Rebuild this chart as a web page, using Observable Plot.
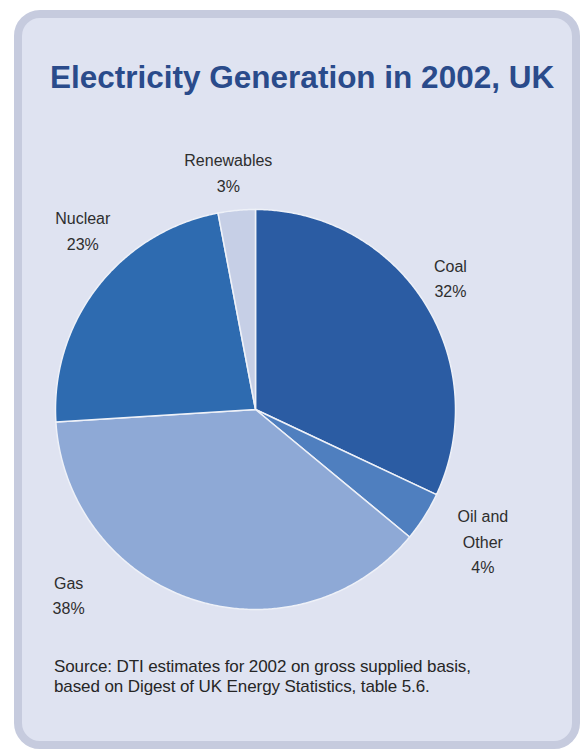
<!DOCTYPE html>
<html>
<head>
<meta charset="utf-8">
<script src="https://cdn.jsdelivr.net/npm/d3@7"></script>
<script src="https://cdn.jsdelivr.net/npm/@observablehq/plot@0.6"></script>
<style>
  html, body { margin: 0; padding: 0; background: #ffffff; }
  body { width: 584px; height: 749px; overflow: hidden; position: relative; font-family: "Liberation Sans", Arial, sans-serif; }
  #panel { position: absolute; left: 14px; top: 10px; width: 550px; height: 723px; border: 8px solid #c6cbde; border-radius: 26px; background: #dfe3f1; }
  #title { position: absolute; left: 50px; top: 62px; font-size: 31.5px; font-weight: bold; color: #2a4b8b; white-space: nowrap; line-height: 1; }
  #chart { position: absolute; left: 0; top: 0; }
  #caption { position: absolute; left: 54px; top: 657px; font-size: 17px; line-height: 20px; color: #262626; white-space: nowrap; letter-spacing: -0.1px; }
</style>
</head>
<body>
<div id="panel"></div>
<div id="title">Electricity Generation in 2002, UK</div>
<div id="chart"></div>
<div id="caption">Source: DTI estimates for 2002 on gross supplied basis,<br>based on Digest of UK Energy Statistics, table 5.6.</div>
<script>
// ---- data ----
const categories = ["Coal", "Oil and Other", "Gas", "Nuclear", "Renewables"];
const shares = [32, 4, 38, 23, 3];
const labelNames = ["Coal", "Oil and\nOther", "Gas", "Nuclear", "Renewables"];
// ---- styles / layout (not data) ----
const sliceColors = ["#2b5ca3", "#4f7fbf", "#8ea9d6", "#2e6bb0", "#c6cfe6"];
const labelAngle = [55.7, 119.8, 225.5, 316.3, 353.5];   // degrees clockwise from 12 o'clock
const labelRadius = [1.18, 1.31, 1.31, 1.25, 1.2];       // in pie radii

const rows = categories.map((c, i) => ({cat: c, share: shares[i], name: labelNames[i]}));
const arcs = d3.pie().sort(null).value(d => d.share)(rows);

// polygon outline for each slice (center -> arc -> center)
const pts = [];
for (const a of arcs) {
  const cat = a.data.cat;
  pts.push({cat, x: 0, y: 0});
  const n = Math.max(2, Math.ceil((a.endAngle - a.startAngle) / (Math.PI / 360)));
  for (let k = 0; k <= n; k++) {
    const t = a.startAngle + (a.endAngle - a.startAngle) * k / n;
    pts.push({cat, x: Math.sin(t), y: Math.cos(t)});
  }
  pts.push({cat, x: 0, y: 0});
}

const labels = rows.map((r, i) => {
  const t = labelAngle[i] * Math.PI / 180;
  return {text: `${r.name}\n${r.share}%`, x: labelRadius[i] * Math.sin(t), y: labelRadius[i] * Math.cos(t)};
});

const chart = Plot.plot({
  width: 584,
  height: 749,
  marginLeft: 55,
  marginRight: 129,
  marginTop: 209,
  marginBottom: 140,
  x: {domain: [-1, 1], axis: null},
  y: {domain: [-1, 1], axis: null},
  color: {domain: categories, range: sliceColors},
  style: {background: "transparent", overflow: "visible"},
  marks: [
    Plot.line(pts, {x: "x", y: "y", z: "cat", fill: "cat", stroke: "#eef1f8", strokeWidth: 1.5, strokeLinejoin: "round", curve: "linear"}),
    Plot.text(labels, {x: "x", y: "y", text: "text", fontSize: 16, lineHeight: 1.6, fill: "#2e2e2e", textAnchor: "middle", lineAnchor: "middle", fontFamily: "Liberation Sans, Arial, sans-serif"})
  ]
});
document.getElementById("chart").appendChild(chart);
</script>
</body>
</html>
